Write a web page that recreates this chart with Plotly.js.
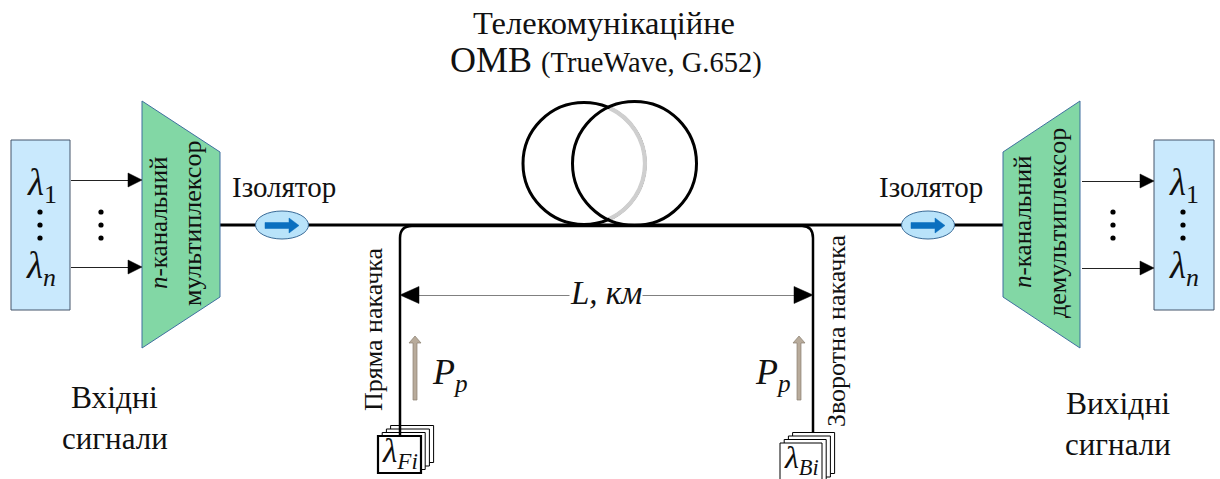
<!DOCTYPE html>
<html><head><meta charset="utf-8">
<script src="https://cdn.plot.ly/plotly-3.0.1.min.js"></script>
<style>html,body{margin:0;padding:0;background:#fff;overflow:hidden}#c{width:1220px;height:479px}</style>
</head><body><div id="c"></div>
<script>
// ---- diagram geometry (px of the 1220x479 canvas) ----
const inputBoxX = [11, 70], outputBoxX = [1154, 1214], ioBoxY = [140, 310];
const muxX = [142, 142, 220, 220], muxY = [101, 348, 297, 152];
const demuxX = [1003, 1003, 1080, 1080], demuxY = [152, 297, 348, 101];
const fibreX = [220, 1003], fibreY = [225, 225];
const signalY = [180, 267];
const inputArrowX = [71, 142], outputArrowX = [1082, 1155];
const dotColsX = [40, 101, 1113, 1183], dotRowsY = [212, 225, 238];
const isolatorCentreX = [282, 928];
const coilLeft = [584, 163.5, 61], coilRight = [634.5, 163.5, 62];
const spanY = 295, spanX = [400, 813];
const pumpArrowX = [415, 799], pumpArrowY = [400, 336];
const frontFrameLeft = [378, 421, 436, 473], frontFrameRight = [780, 822, 443, 484];
const frameOffsets = [3, 2, 1, 0];

const labels = [
  ['Телекомунікаційне', 604, 23, 32.5, 0],
  ['ОМВ <span style="font-size:28.5px">(TrueWave, G.652)</span>', 606, 60, 36, 0],
  ['Ізолятор', 284, 187, 29, 0],
  ['Ізолятор', 931, 187, 29, 0],
  ['Вхідні', 114, 397, 31.5, 0],
  ['сигнали', 115, 438, 31, 0],
  ['Вихідні', 1118, 403, 31.5, 0],
  ['сигнали', 1118, 444, 31, 0],
  ['<i>n</i>-канальний', 158, 223, 25, -90],
  ['мультиплексor'.replace('or', 'ор'), 192, 224, 26, -90],
  ['<i>n</i>-канальний', 1022, 222, 25, -90],
  ['демультиплексор', 1057, 223, 26, -90],
  ['Пряма накачка', 373, 329, 26, -90],
  ['Зворотна накачка', 836, 331, 26, -90],
  ['<i>λ</i><sub>1</sub>', 42, 185, 37, 0],
  ['<i>λ<sub>n</sub></i>', 41, 268, 37, 0],
  ['<i>λ</i><sub>1</sub>', 1184, 185, 37, 0],
  ['<i>λ<sub>n</sub></i>', 1184, 268, 37, 0],
  ['<i>P<sub>p</sub></i>', 450, 374, 36, 0],
  ['<i>P<sub>p</sub></i>', 773, 374, 36, 0],
  ['<i>λ<sub>Fi</sub></i>', 400, 453, 33, 0],
  ['<i>λ<sub>Bi</sub></i>', 801, 459, 32, 0]
];

// ---- colours ----
const ink = '#000000', boxFill = '#c9e9fd', boxLine = '#44546a', trapFill = '#82d7a5', trapLine = '#3f6f9f';
const isoFill = '#b9e3fa', isoLine = '#3a6a96', isoArrow = '#0b6fbf', tan = '#b8ab9b', tanLine = '#8a7f70';

function polyPath(xs, ys) { return 'M' + xs.map((x, i) => x + ',' + ys[i]).join(' L') + ' Z'; }
function base(line) { return { xref: 'x', yref: 'y', layer: 'above', line: line }; }
const shapes = [];
function poly(xs, ys, fill, lineCol, w) {
  shapes.push(Object.assign(base({ color: lineCol, width: w }), { type: 'path', path: polyPath(xs, ys), fillcolor: fill }));
}
function rect(x0, x1, y0, y1, fill, lineCol, w) {
  shapes.push(Object.assign(base({ color: lineCol, width: w }), { type: 'rect', x0, x1, y0, y1, fillcolor: fill }));
}
function ellipse(cx, cy, rx, ry, fill, lineCol, w) {
  shapes.push(Object.assign(base({ color: lineCol, width: w }), { type: 'circle', x0: cx - rx, x1: cx + rx, y0: cy - ry, y1: cy + ry, fillcolor: fill }));
}
function stroke(path, col, w) {
  shapes.push(Object.assign(base({ color: col, width: w }), { type: 'path', path: path }));
}
function seg(x0, y0, x1, y1, col, w) {
  shapes.push(Object.assign(base({ color: col, width: w }), { type: 'line', x0, y0, x1, y1 }));
}

// main fibre and pump branches
seg(fibreX[0], fibreY[0], fibreX[1], fibreY[1], ink, 3);
stroke('M400,435 L400,238 Q400,226 412,226 L802,226 Q813,226 813,238 L813,433', ink, 2.5);

// fibre coils
ellipse(coilLeft[0], coilLeft[1], coilLeft[2], coilLeft[2], 'rgba(0,0,0,0)', ink, 3);
stroke('M609.5,108 C631.1,118 645,139.7 645,163.5 C645,187.3 631.1,209 609.5,219', '#cfcfcf', 4.2);
ellipse(coilRight[0], coilRight[1], coilRight[2], coilRight[2], 'rgba(0,0,0,0)', ink, 3);

// I/O boxes and (de)multiplexers
rect(inputBoxX[0], inputBoxX[1], ioBoxY[0], ioBoxY[1], boxFill, boxLine, 1);
rect(outputBoxX[0], outputBoxX[1], ioBoxY[0], ioBoxY[1], boxFill, boxLine, 1);
poly(muxX, muxY, trapFill, trapLine, 1);
poly(demuxX, demuxY, trapFill, trapLine, 1);

// signal arrows
signalY.forEach(y => {
  seg(inputArrowX[0], y + 0.5, inputArrowX[1] - 12, y + 0.5, '#222', 1);
  poly([128, 142, 128], [y - 7, y, y + 7], ink, ink, 0.5);
  seg(outputArrowX[0], y + 1.5, outputArrowX[1] - 12, y + 1.5, '#222', 1);
  poly([1140, 1154, 1140], [y - 6, y + 1, y + 8], ink, ink, 0.5);
});

// dots
dotColsX.forEach(x => dotRowsY.forEach(y => ellipse(x, y, 2.6, 2.6, ink, ink, 0)));

// isolators
isolatorCentreX.forEach(cx => {
  ellipse(cx, 225, 26.5, 14, isoFill, isoLine, 1);
  poly([cx - 17, cx + 7, cx + 7, cx + 17, cx + 7, cx + 7, cx - 17],
       [222.5, 222.5, 218, 225.5, 233, 228.5, 228.5], isoArrow, isoArrow, 0.5);
});

// span arrow
seg(spanX[0] + 15, spanY + 0.5, spanX[1] - 15, spanY + 0.5, '#808080', 1);
poly([400, 419, 419], [spanY, spanY - 8.5, spanY + 8.5], ink, ink, 0.5);
poly([813, 794, 794], [spanY, spanY - 8.5, spanY + 8.5], ink, ink, 0.5);

// pump-power arrows
pumpArrowX.forEach(x => {
  const b = pumpArrowY[0], t = pumpArrowY[1];
  poly([x - 2, x - 2, x - 6, x, x + 6, x + 2, x + 2],
       [b, t + 7, t + 7, t, t + 7, t + 7, b], tan, tanLine, 0.7);
});

// pump source frames
function frames(f, w) {
  frameOffsets.forEach(k => {
    const dx = k * 4.2, dy = -k * 3.5;
    rect(f[0] + dx, f[1] + dx, f[2] + dy, f[3] + dy, '#ffffff', ink, k === 0 ? w : 1);
  });
}
frames(frontFrameLeft, 2.2);
frames(frontFrameRight, 1);
seg(400, 425, 400, 436, ink, 2.5);

const annotations = labels.map(l => ({
  text: l[0], x: l[1], y: l[2], xref: 'x', yref: 'y', showarrow: false,
  xanchor: 'center', yanchor: 'middle', textangle: l[4],
  font: { family: '"Liberation Serif", serif', size: l[3], color: '#111' }
}));
annotations.push({
  text: '<i>L, км</i>', x: 606, y: 293, xref: 'x', yref: 'y', showarrow: false,
  xanchor: 'center', yanchor: 'middle', bgcolor: '#ffffff', borderpad: 0,
  font: { family: '"Liberation Serif", serif', size: 33, color: '#111' }
});

Plotly.newPlot('c', [], {
  width: 1220, height: 479, margin: { l: 0, r: 0, t: 0, b: 0 },
  paper_bgcolor: '#fff', plot_bgcolor: '#fff', showlegend: false,
  xaxis: { range: [0, 1220], visible: false, fixedrange: true },
  yaxis: { range: [479, 0], visible: false, fixedrange: true },
  shapes, annotations
}, { staticPlot: true, displayModeBar: false });
</script></body></html>
